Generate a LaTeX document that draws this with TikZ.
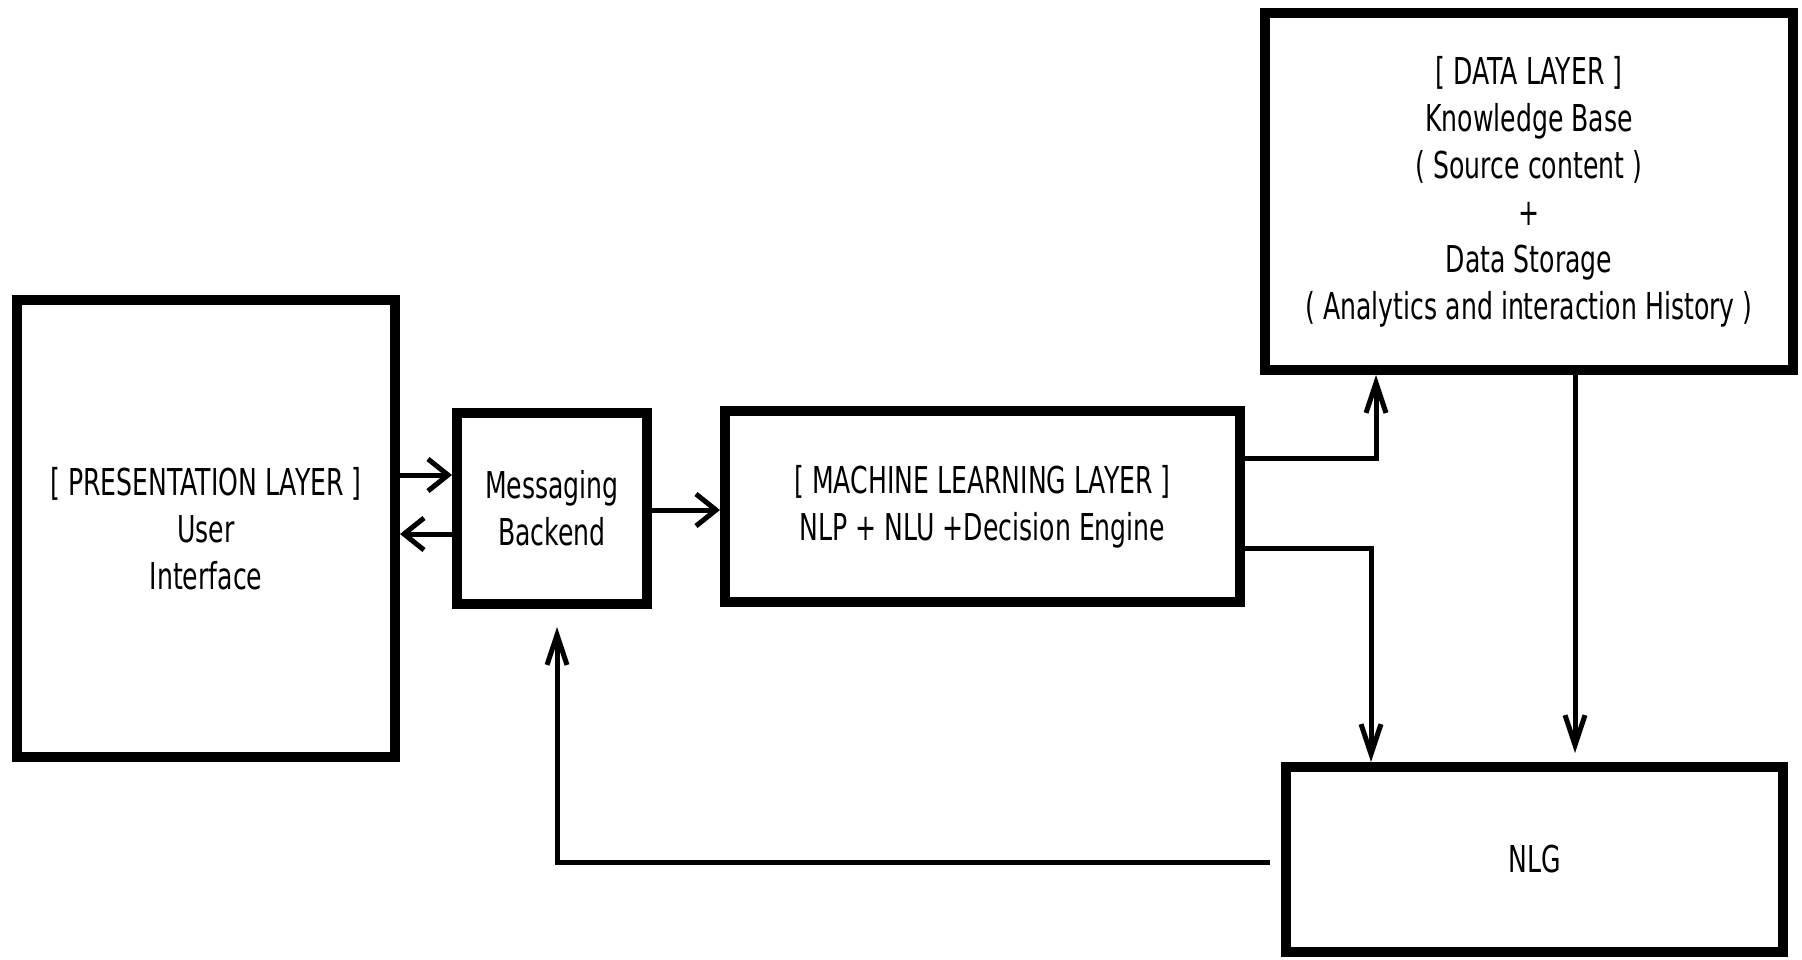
\documentclass[tikz,border=0pt]{standalone}
\usepackage{fontspec}
\setmainfont{DejaVu Sans}[FakeStretch=0.68]
\usetikzlibrary{arrows.meta}

\begin{document}
\begin{tikzpicture}[
    x=1pt, y=-1pt,
    block/.style={rectangle, draw, line width=10pt, align=center, inner sep=0pt},
    harrow/.style={-{Straight Barb[length=20pt, width=32pt]}, line width=5pt},
    varrow/.style={-{Straight Barb[length=30pt, width=20pt]}, line width=5pt},
    every node/.style={font=\fontsize{37}{47}\selectfont}
]
    \useasboundingbox (0,0) rectangle (1802,959);

    % Presentation and messaging
    \node[block, minimum width=378pt, minimum height=457pt] (ui) at (206,528.5)
        {[ PRESENTATION LAYER ]\\User\\Interface};
    \node[block, minimum width=190pt, minimum height=191pt] (msg) at (552,508.5)
        {Messaging\\Backend};

    % Machine learning
    \node[block, minimum width=515pt, minimum height=191pt] (ml) at (982.5,506.5)
        {[ MACHINE LEARNING LAYER ]\\NLP + NLU +Decision Engine};

    % Data layer
    \node[block, minimum width=528pt, minimum height=357pt] (data) at (1529,191.5)
        {[ DATA LAYER ]\\Knowledge Base\\( Source content )\\+\\Data Storage\\( Analytics and interaction History )};

    % Generation
    \node[block, minimum width=497pt, minimum height=185pt] (nlg) at (1534.5,859.5) {NLG};

    % Arrows
    \draw[harrow] (ui.east |- 0,475) -- (msg.west |- 0,475);
    \draw[harrow] (msg.west |- 0,534) -- (ui.east |- 0,534);
    \draw[harrow] (msg.east |- 0,510) -- (ml.west |- 0,510);
    \draw[varrow] (ml.east |- 0,458) -| (data.south -| 1376,0);
    \draw[varrow] (ml.east |- 0,548) -| (nlg.north -| 1371,0);
    \draw[varrow, shorten >=9pt] (data.south -| 1575,0) -- (nlg.north -| 1575,0);
    \draw[varrow, shorten <=11pt, shorten >=18pt] (nlg.west |- 0,862) -| (msg.south -| 557,0);
\end{tikzpicture}
\end{document}
